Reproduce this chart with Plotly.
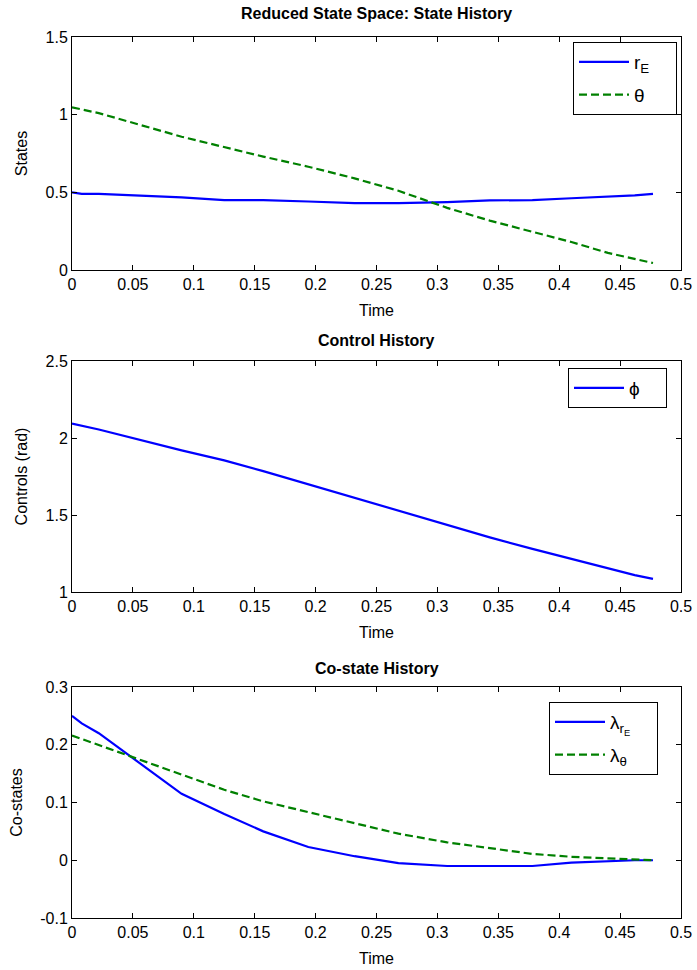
import plotly.graph_objects as go

# ---------------- data ----------------
time = [0, 0.008, 0.022, 0.09, 0.125, 0.157, 0.194, 0.232, 0.268, 0.308,
        0.343, 0.378, 0.41, 0.44, 0.462, 0.477]
r_E = [0.500, 0.490, 0.490, 0.467, 0.450, 0.450, 0.441, 0.430, 0.430, 0.437,
       0.448, 0.450, 0.462, 0.472, 0.480, 0.490]
theta = [1.047, 1.033, 1.010, 0.858, 0.790, 0.730, 0.665, 0.590, 0.510, 0.400,
         0.318, 0.245, 0.180, 0.110, 0.070, 0.045]
phi = [2.094, 2.080, 2.055, 1.920, 1.855, 1.785, 1.700, 1.610, 1.525, 1.435,
       1.355, 1.280, 1.215, 1.155, 1.110, 1.085]
lam_r = [0.250, 0.237, 0.220, 0.115, 0.080, 0.050, 0.023, 0.007, -0.005, -0.010,
         -0.010, -0.010, -0.004, -0.001, 0.000, 0.000]
lam_theta = [0.216, 0.210, 0.200, 0.148, 0.122, 0.102, 0.083, 0.064, 0.046, 0.031,
             0.021, 0.011, 0.006, 0.003, 0.001, 0.000]

x_ticks = [0, 0.05, 0.1, 0.15, 0.2, 0.25, 0.3, 0.35, 0.4, 0.45, 0.5]
x_ticktext = ["0", "0.05", "0.1", "0.15", "0.2", "0.25", "0.3", "0.35", "0.4", "0.45", "0.5"]
y1_ticks = [0, 0.5, 1, 1.5]
y1_text = ["0", "0.5", "1", "1.5"]
y2_ticks = [1, 1.5, 2, 2.5]
y2_text = ["1", "1.5", "2", "2.5"]
y3_ticks = [-0.1, 0, 0.1, 0.2, 0.3]
y3_text = ["-0.1", "0", "0.1", "0.2", "0.3"]

titles = ["Reduced State Space: State History", "Control History", "Co-state History"]
ylabels = ["States", "Controls (rad)", "Co-states"]
names = ["r<sub>E</sub>", "θ", "ϕ", "λ<sub>r<sub>E</sub></sub>", "λ<sub>θ</sub>"]

# ---------------- style ----------------
W, H = 697, 970
FONT = "Liberation Sans, Arial, sans-serif"
BLUE = "#0000FF"
GREEN = "#008000"
LW = 2.2
DASH = "8px,4px"
PAD = "\u00a0" * 4

x_dom = [72 / W, 681 / W]
y_doms = [[1 - 270 / H, 1 - 37 / H],
          [1 - 592 / H, 1 - 361 / H],
          [1 - 918 / H, 1 - 687 / H]]
title_shift = [13, 10, 8]

fig = go.Figure()

fig.add_trace(go.Scatter(x=time, y=r_E, mode="lines", name=names[0] + PAD,
                         line=dict(color=BLUE, width=LW), xaxis="x", yaxis="y",
                         legend="legend", legendgroup="a"))
fig.add_trace(go.Scatter(x=time, y=theta, mode="lines", name=names[1] + PAD,
                         line=dict(color=GREEN, width=LW, dash=DASH), xaxis="x", yaxis="y",
                         legend="legend", legendgroup="b"))
fig.add_trace(go.Scatter(x=time, y=phi, mode="lines", name=names[2] + PAD,
                         line=dict(color=BLUE, width=LW), xaxis="x2", yaxis="y2",
                         legend="legend2", legendgroup="c"))
fig.add_trace(go.Scatter(x=time, y=lam_r, mode="lines", name=names[3] + PAD,
                         line=dict(color=BLUE, width=LW), xaxis="x3", yaxis="y3",
                         legend="legend3", legendgroup="d"))
fig.add_trace(go.Scatter(x=time, y=lam_theta, mode="lines", name=names[4] + PAD,
                         line=dict(color=GREEN, width=LW, dash=DASH), xaxis="x3", yaxis="y3",
                         legend="legend3", legendgroup="e"))

axis_common = dict(showline=True, linecolor="black", linewidth=1, mirror="ticks",
                   ticks="inside", ticklen=5, tickcolor="black", showgrid=False,
                   zeroline=False, automargin=False,
                   tickfont=dict(family=FONT, size=16, color="black"))

yranges = [[0, 1.5], [1, 2.5], [-0.1, 0.3]]
yticks = [(y1_ticks, y1_text), (y2_ticks, y2_text), (y3_ticks, y3_text)]
layout = {}
for i in range(3):
    sx = "" if i == 0 else str(i + 1)
    layout["xaxis" + sx] = dict(axis_common, domain=x_dom, range=[0, 0.5],
                                anchor="y" + sx, tickvals=x_ticks, ticktext=x_ticktext,
                                title=dict(text="Time", standoff=12,
                                           font=dict(family=FONT, size=16, color="black")))
    layout["yaxis" + sx] = dict(axis_common, domain=y_doms[i], range=yranges[i],
                                anchor="x" + sx, tickvals=yticks[i][0], ticktext=yticks[i][1],
                                title=dict(text=ylabels[i], standoff=13,
                                           font=dict(family=FONT, size=16, color="black")))

annotations = []
for i in range(3):
    annotations.append(dict(text="<b>" + titles[i] + "</b>", xref="paper", yref="paper",
                            x=(x_dom[0] + x_dom[1]) / 2, y=y_doms[i][1],
                            xanchor="center", yanchor="bottom", yshift=title_shift[i],
                            showarrow=False,
                            font=dict(family=FONT, size=16, color="black")))

leg_common = dict(bgcolor="white", bordercolor="black", borderwidth=1,
                  font=dict(family=FONT, size=19, color="black"),
                  xanchor="right", yanchor="top", xref="paper", yref="paper",
                  itemwidth=50, tracegroupgap=5)

fig.update_layout(
    width=W, height=H,
    margin=dict(l=0, r=0, t=0, b=0),
    paper_bgcolor="white", plot_bgcolor="white",
    showlegend=True,
    annotations=annotations,
    legend=dict(leg_common, x=677 / W, y=1 - 42 / H),
    legend2=dict(leg_common, x=667 / W, y=1 - 368 / H),
    legend3=dict(leg_common, x=658 / W, y=1 - 702 / H),
    **layout,
)

fig.write_html("out.html")
